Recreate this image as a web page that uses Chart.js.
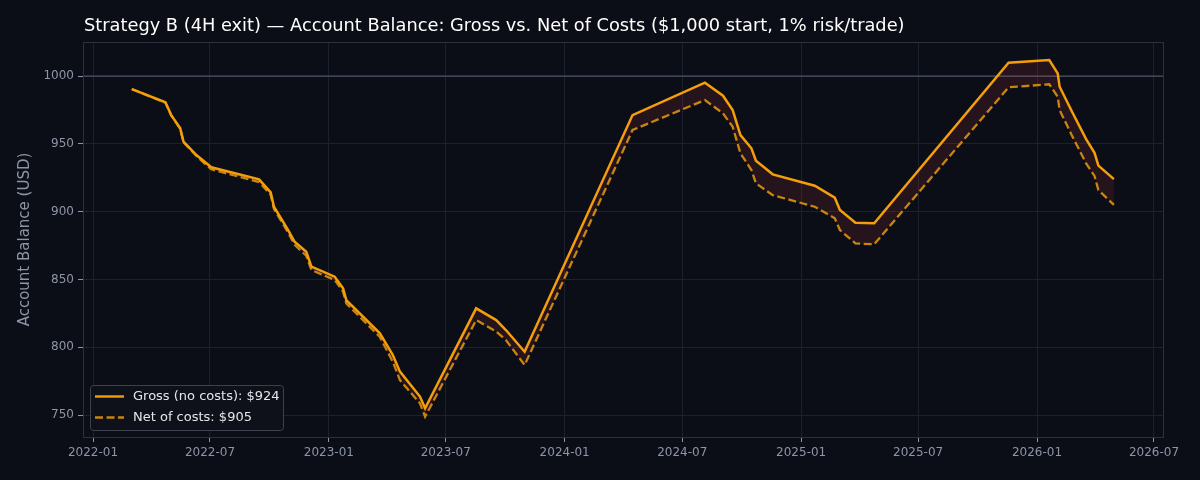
<!DOCTYPE html>
<html lang="en">
<head>
<meta charset="UTF-8">
<title>Strategy B - Account Balance</title>
<script src="https://cdn.jsdelivr.net/npm/chart.js"></script>
<style>
  html, body { margin: 0; padding: 0; background: #0b0e16; }
  .wrap { width: 1200px; height: 480px; }
</style>
</head>
<body>
<div class="wrap"><canvas id="balanceChart" width="1200" height="480"></canvas></div>
<script>
// trade close dates
const tradeDates = [
  '2022-03-02', '2022-04-23', '2022-05-02', '2022-05-16', '2022-05-21', '2022-06-10',
  '2022-07-03', '2022-09-15', '2022-10-03', '2022-10-08', '2022-10-30', '2022-11-09',
  '2022-11-27', '2022-12-05', '2023-01-10', '2023-01-23', '2023-01-28', '2023-03-21',
  '2023-04-10', '2023-04-21', '2023-05-22', '2023-05-30', '2023-08-17', '2023-09-17',
  '2023-10-02', '2023-10-31', '2024-04-15', '2024-08-05', '2024-09-02', '2024-09-17',
  '2024-09-29', '2024-10-16', '2024-10-23', '2024-11-18', '2025-01-22', '2025-02-22',
  '2025-03-02', '2025-03-26', '2025-04-24', '2025-11-18', '2026-01-20', '2026-02-02',
  '2026-02-05', '2026-02-25', '2026-03-18', '2026-03-31', '2026-04-06', '2026-04-30'
];
const grossBalance = [
  990.4, 980.6, 971.2, 961.4, 951.6, 941.7,
  932.7, 923.8, 914.2, 903.6, 886.4, 877.8,
  870.4, 859.4, 852.0, 843.4, 834.8, 810.3,
  794.3, 782.0, 763.6, 755.0, 828.7, 820.0,
  812.7, 796.7, 971.2, 995.1, 985.5, 974.9,
  956.5, 946.7, 937.5, 927.5, 919.1, 910.3,
  901.2, 891.8, 891.4, 1009.8, 1011.8, 1002.0,
  992.1, 972.9, 953.5, 943.4, 933.9, 924.0
];
const netBalance = [
  990.4, 980.4, 971.0, 961.0, 951.2, 941.0,
  931.2, 921.8, 912.5, 902.0, 884.5, 875.5,
  867.5, 857.0, 849.6, 841.0, 832.4, 807.5,
  789.3, 775.8, 758.6, 748.8, 820.0, 811.5,
  805.3, 786.9, 960.2, 982.3, 972.5, 962.6,
  943.0, 930.7, 920.9, 912.2, 903.6, 895.1,
  886.4, 876.6, 875.9, 991.7, 993.9, 984.8,
  974.9, 955.3, 935.6, 926.3, 915.9, 905.0
];
const xTickMonths = [
  '2022-01', '2022-07', '2023-01', '2023-07', '2024-01',
  '2024-07', '2025-01', '2025-07', '2026-01', '2026-07'
];
const yTicks = [750, 800, 850, 900, 950, 1000];
const startBalance = 1000;

const titleText = 'Strategy B (4H exit) \u2014 Account Balance: Gross vs. Net of Costs ($1,000 start, 1% risk/trade)';
const grossLabel = 'Gross (no costs): $' + Math.round(grossBalance[grossBalance.length - 1]);
const netLabel = 'Net of costs: $' + Math.round(netBalance[netBalance.length - 1]);

const GROSS = '#f59e0b';
const NET = '#c98510';
const TICK = '#8d95a7';
const GRID = '#1c222d';
const FONT = '"DejaVu Sans", sans-serif';

const toTs = s => Date.parse(s.length === 7 ? s + '-01T00:00:00Z' : s + 'T00:00:00Z');
const grossPts = tradeDates.map((d, i) => ({ x: toTs(d), y: grossBalance[i] }));
const netPts = tradeDates.map((d, i) => ({ x: toTs(d), y: netBalance[i] }));

// frame, start line, title, axis label and legend drawn by hand
const decorPlugin = {
  id: 'decor',
  beforeDatasetsDraw(chart) {
    const { ctx, chartArea: a, scales } = chart;
    const y = scales.y.getPixelForValue(startBalance);
    ctx.save();
    ctx.strokeStyle = '#4b5566';
    ctx.lineWidth = 1.3;
    ctx.beginPath();
    ctx.moveTo(a.left, y);
    ctx.lineTo(a.right, y);
    ctx.stroke();
    ctx.restore();
  },
  afterDraw(chart) {
    const { ctx, chartArea: a } = chart;
    ctx.save();
    ctx.strokeStyle = '#2a303c';
    ctx.lineWidth = 1;
    ctx.strokeRect(a.left + 0.5, a.top + 0.5, a.right - a.left, a.bottom - a.top);

    ctx.fillStyle = '#ffffff';
    ctx.font = '17.8px ' + FONT;
    ctx.textBaseline = 'middle';
    ctx.textAlign = 'left';
    ctx.fillText(titleText, a.left + 1, 26);

    ctx.save();
    ctx.translate(25, (a.top + a.bottom) / 2);
    ctx.rotate(-Math.PI / 2);
    ctx.textAlign = 'center';
    ctx.fillStyle = TICK;
    ctx.font = '15px ' + FONT;
    ctx.fillText('Account Balance (USD)', 0, 0);
    ctx.restore();

    // legend
    const lx = a.left + 7, ly = a.bottom - 52, lw = 193, lh = 45;
    ctx.fillStyle = 'rgba(14,18,26,0.9)';
    ctx.strokeStyle = '#3b414d';
    ctx.beginPath();
    ctx.roundRect(lx + 0.5, ly + 0.5, lw, lh, 3);
    ctx.fill();
    ctx.stroke();

    ctx.lineWidth = 2.4;
    ctx.strokeStyle = GROSS;
    ctx.beginPath();
    ctx.moveTo(lx + 5, ly + 11.5);
    ctx.lineTo(lx + 34, ly + 11.5);
    ctx.stroke();
    ctx.strokeStyle = NET;
    ctx.setLineDash([8, 3.5]);
    ctx.beginPath();
    ctx.moveTo(lx + 5, ly + 32.5);
    ctx.lineTo(lx + 34, ly + 32.5);
    ctx.stroke();
    ctx.setLineDash([]);

    ctx.fillStyle = '#e4e6ea';
    ctx.font = '13px ' + FONT;
    ctx.fillText(grossLabel, lx + 43, ly + 12);
    ctx.fillText(netLabel, lx + 43, ly + 33);
    ctx.restore();
  }
};

new Chart(document.getElementById('balanceChart'), {
  type: 'line',
  data: {
    datasets: [
      {
        label: grossLabel,
        data: grossPts,
        borderColor: GROSS,
        borderWidth: 2.5,
        pointRadius: 0,
        tension: 0,
        fill: false
      },
      {
        label: netLabel,
        data: netPts,
        borderColor: NET,
        borderWidth: 2.3,
        borderDash: [8, 3.5],
        pointRadius: 0,
        tension: 0,
        fill: { target: '-1', above: 'rgba(239,68,80,0.12)', below: 'rgba(239,68,80,0.12)' }
      }
    ]
  },
  options: {
    responsive: false,
    animation: false,
    layout: { padding: { top: 42, right: 37, left: 0, bottom: 0 } },
    plugins: {
      legend: { display: false },
      title: { display: false },
      tooltip: { enabled: false }
    },
    scales: {
      x: {
        type: 'linear',
        min: Date.UTC(2021, 11, 16, 12),
        max: Date.UTC(2026, 6, 15),
        afterFit(scale) { scale.height = 43; },
        afterBuildTicks(scale) {
          scale.ticks = xTickMonths.map(m => ({ value: toTs(m) }));
        },
        ticks: {
          color: TICK,
          font: { family: FONT, size: 12 },
          padding: 4,
          maxRotation: 0,
          autoSkip: false,
          callback: function(value) {
            const d = new Date(value);
            return d.getUTCFullYear() + '-' + String(d.getUTCMonth() + 1).padStart(2, '0');
          }
        },
        grid: { color: GRID, tickColor: TICK, tickLength: 5, lineWidth: 1 },
        border: { display: false }
      },
      y: {
        min: 733.8,
        max: 1025.1,
        afterFit(scale) { scale.width = 83; },
        afterBuildTicks(scale) {
          scale.ticks = yTicks.map(v => ({ value: v }));
        },
        ticks: {
          color: TICK,
          font: { family: FONT, size: 12 },
          padding: 4,
          callback: function(value) { return String(value); }
        },
        grid: { color: GRID, tickColor: TICK, tickLength: 5, lineWidth: 1 },
        border: { display: false }
      }
    }
  },
  plugins: [decorPlugin]
});
</script>
</body>
</html>
